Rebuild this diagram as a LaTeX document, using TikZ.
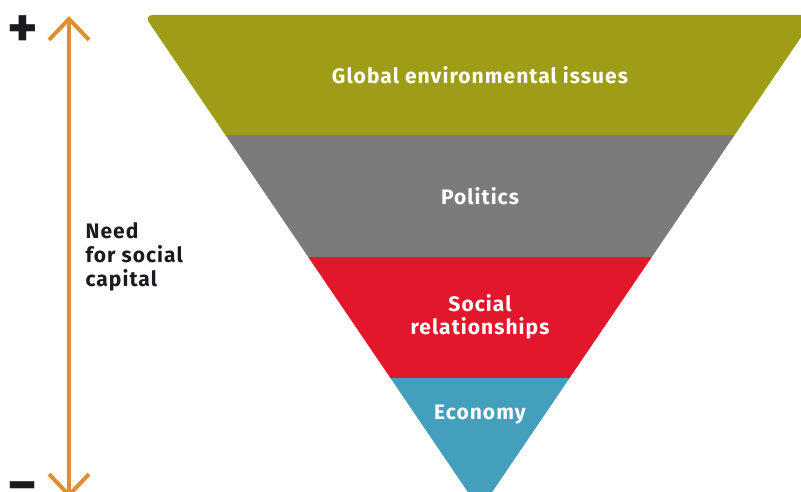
\documentclass[tikz,border=0pt]{standalone}
\usepackage{fontspec}
\setmainfont{Fira Sans}[LetterSpace=5]
\usetikzlibrary{arrows.meta}
\definecolor{bandolive}{HTML}{9F9C17}
\definecolor{bandgray}{HTML}{7A7B7A}
\definecolor{bandred}{HTML}{E3172B}
\definecolor{bandblue}{HTML}{439FBB}
\definecolor{arroworange}{HTML}{E08F2F}
\definecolor{signblack}{HTML}{1A1A1F}
\begin{document}
\begin{tikzpicture}[x=1pt,y=-1pt,
    bandlabel/.style={text=white,font=\bfseries\fontsize{21}{23}\selectfont,align=center},
    sidelabel/.style={text=signblack,font=\bfseries\fontsize{21}{24}\selectfont,align=left,anchor=west},
    sign/.style={text=signblack,font=\bfseries\fontsize{58}{58}\selectfont,inner sep=0pt}]
    \useasboundingbox (0,0) rectangle (801,492);
    \clip (0,0) rectangle (801,492);

    % Piramide invertida
    \fill[bandolive] (225.4,135) [rounded corners=9pt] -- (143.9,15) [sharp corners] -- (816.1,15) -- (734.6,135) -- cycle;
    \fill[bandgray] (225.4,135) -- (734.6,135) -- (651.8,257) -- (308.2,257) -- cycle;
    \fill[bandred] (308.2,257) -- (651.8,257) -- (569.6,378) -- (390.4,378) -- cycle;
    \fill[bandblue] (390.4,378) -- (569.6,378) -- (480,510) -- cycle;

    % Rotulos de las bandas
    \node[bandlabel] (global) at (480,75) {Global environmental issues};
    \node[bandlabel] (politics) at (480,196) {Politics};
    \node[bandlabel] (social) at (480,317) {Social\\relationships};
    \node[bandlabel] (economy) at (480,415) {Economy};

    % Flecha de necesidad
    \coordinate (top) at (69,16);
    \coordinate (bottom) at (69,498);
    \draw[arroworange,line width=4pt,{Straight Barb[length=21pt,width=40pt]}-{Straight Barb[length=21pt,width=40pt]}] (top) -- (bottom);
    \node[sidelabel] (need) at (82,257) {Need\\for social\\capital};

    % Signos
    \node[sign] (plus) at (23,32) {+};
    \node[sign] (minus) at (23,493) {−};
\end{tikzpicture}
\end{document}
